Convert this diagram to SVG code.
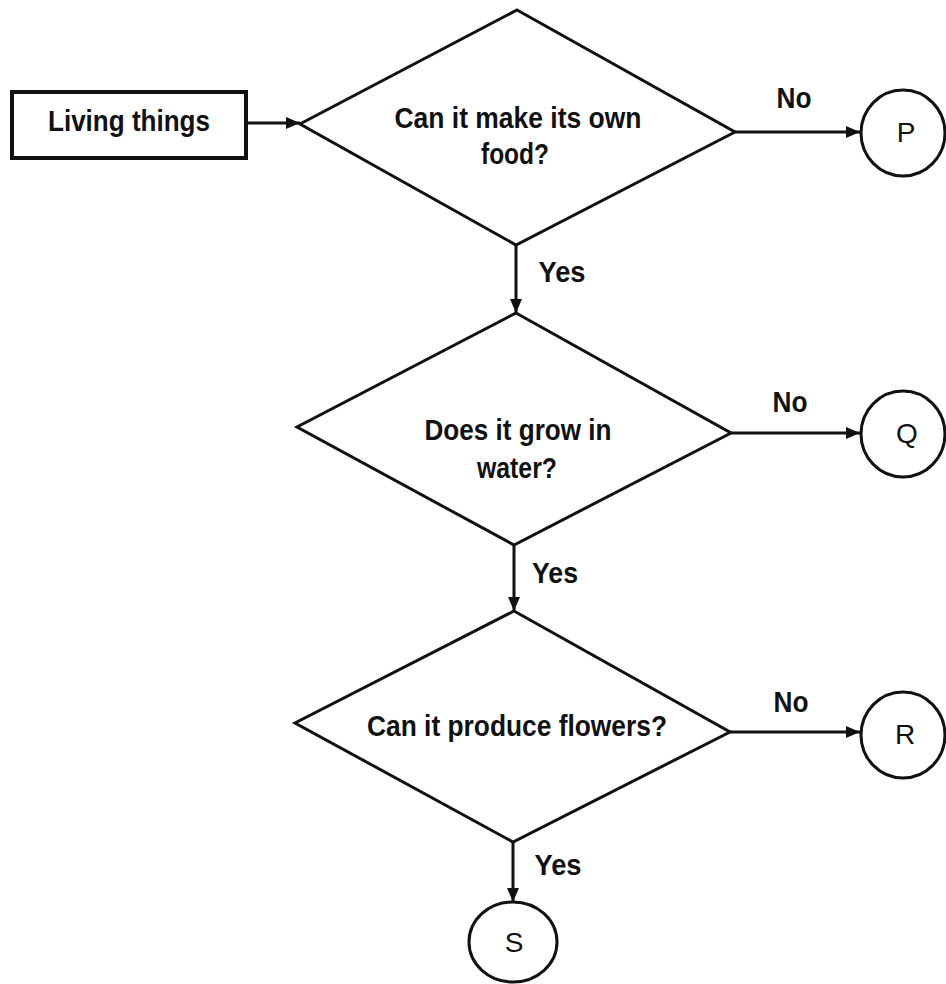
<svg xmlns="http://www.w3.org/2000/svg" width="946" height="984" viewBox="0 0 946 984">
<defs>
<style>
.shape{fill:#fff;stroke:#111;stroke-width:3}
.box{fill:#fff;stroke:#111;stroke-width:4}
.conn{fill:none;stroke:#111;stroke-width:3}
.t{font-family:"Liberation Sans",Arial,sans-serif;font-size:29px;font-weight:bold;fill:#111;text-anchor:middle}
.c{font-family:"Liberation Sans",Arial,sans-serif;font-size:28px;fill:#111;text-anchor:middle}
</style>
<marker id="arr" markerUnits="userSpaceOnUse" markerWidth="14" markerHeight="12" refX="14" refY="6" orient="auto">
<path d="M0,0 L14,6 L0,12 Z" fill="#111"/>
</marker>
</defs>
<rect width="946" height="984" fill="#fff"/>
<g id="connectors">
<line class="conn" x1="246" y1="123" x2="300" y2="123" marker-end="url(#arr)"/>
<line class="conn" x1="735" y1="132" x2="860" y2="132" marker-end="url(#arr)"/>
<line class="conn" x1="516" y1="245" x2="516" y2="313" marker-end="url(#arr)"/>
<line class="conn" x1="731" y1="433" x2="860" y2="433" marker-end="url(#arr)"/>
<line class="conn" x1="514" y1="545" x2="514" y2="611" marker-end="url(#arr)"/>
<line class="conn" x1="730" y1="732" x2="860" y2="732" marker-end="url(#arr)"/>
<line class="conn" x1="513" y1="842" x2="513" y2="902" marker-end="url(#arr)"/>
<text class="t" x="794" y="108" textLength="35" lengthAdjust="spacingAndGlyphs">No</text>
<text class="t" x="562" y="282" textLength="47" lengthAdjust="spacingAndGlyphs">Yes</text>
<text class="t" x="790" y="412" textLength="35" lengthAdjust="spacingAndGlyphs">No</text>
<text class="t" x="555" y="583" textLength="46" lengthAdjust="spacingAndGlyphs">Yes</text>
<text class="t" x="791" y="712" textLength="35" lengthAdjust="spacingAndGlyphs">No</text>
<text class="t" x="558" y="875" textLength="47" lengthAdjust="spacingAndGlyphs">Yes</text>
</g>
<g id="start">
<rect class="box" x="12" y="92" width="234" height="66"/>
<text class="t" x="129" y="131" textLength="162" lengthAdjust="spacingAndGlyphs">Living things</text>
</g>
<g id="decision1">
<polygon class="shape" points="517,10 735,132 516,245 300,124"/>
<text class="t" x="518" y="128" textLength="247" lengthAdjust="spacingAndGlyphs">Can it make its own</text>
<text class="t" x="515" y="164" textLength="68" lengthAdjust="spacingAndGlyphs">food?</text>
</g>
<g id="decision2">
<polygon class="shape" points="516,313 731,433 514,545 297,427"/>
<text class="t" x="518" y="440" textLength="187" lengthAdjust="spacingAndGlyphs">Does it grow in</text>
<text class="t" x="517" y="478" textLength="80" lengthAdjust="spacingAndGlyphs">water?</text>
</g>
<g id="decision3">
<polygon class="shape" points="514,611 730,732 513,842 295,723"/>
<text class="t" x="517" y="736" textLength="300" lengthAdjust="spacingAndGlyphs">Can it produce flowers?</text>
</g>
<g id="P">
<ellipse class="shape" cx="903" cy="133" rx="42" ry="43"/>
<text class="c" x="906" y="142">P</text>
</g>
<g id="Q">
<ellipse class="shape" cx="903" cy="434" rx="42" ry="43"/>
<text class="c" x="907" y="443">Q</text>
</g>
<g id="R">
<ellipse class="shape" cx="903" cy="735" rx="42" ry="43"/>
<text class="c" x="905" y="744">R</text>
</g>
<g id="S">
<ellipse class="shape" cx="513" cy="942" rx="44" ry="40"/>
<text class="c" x="514" y="952">S</text>
</g>
</svg>
